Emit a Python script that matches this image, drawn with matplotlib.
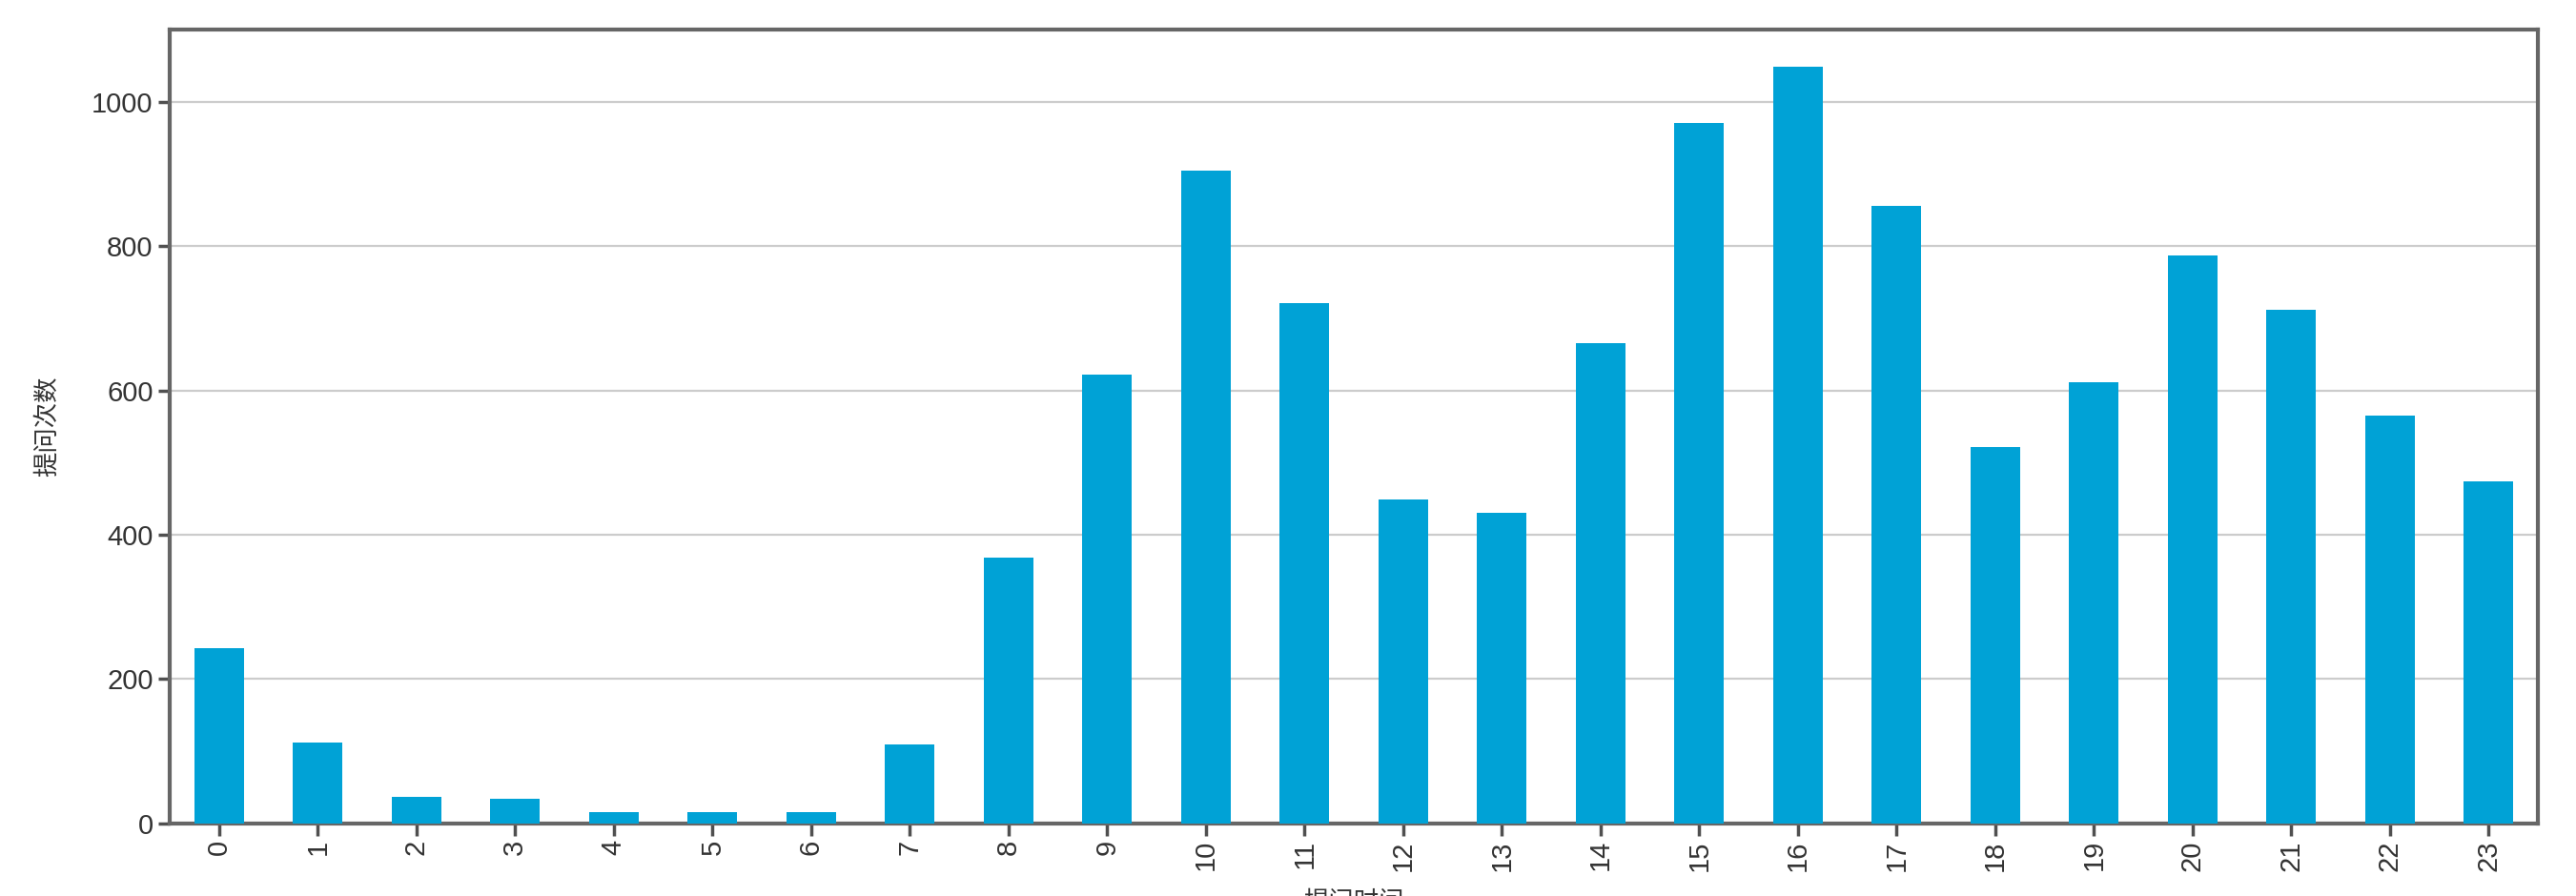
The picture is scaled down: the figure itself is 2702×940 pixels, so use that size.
import numpy as np
import matplotlib
matplotlib.use('Agg')
import matplotlib.pyplot as plt

plt.rcParams['font.family'] = ['Liberation Sans', 'Noto Sans CJK SC', 'DejaVu Sans']

# 每小时提问次数
hours = list(range(24))
counts = [243, 112, 37, 34, 16, 16, 16, 110, 368, 622, 904, 721,
          449, 430, 666, 970, 1048, 856, 522, 611, 787, 712, 565, 474]

fig = plt.figure(figsize=(27.02, 9.4), dpi=100)
ax = fig.add_axes([0.0659, 0.081, 0.9193, 0.886])

x = np.arange(len(hours))
ax.bar(x, counts, width=0.5, color='#00A2D6', zorder=3)

ax.set_xlim(-0.5, len(hours) - 0.5)
ax.set_ylim(0, 1100)
ax.set_yticks([0, 200, 400, 600, 800, 1000])
ax.set_xticks(x)
ax.set_xticklabels([str(h) for h in hours], rotation=90)

ax.yaxis.grid(True, color='#cccccc', linewidth=1.6, zorder=0)
ax.xaxis.grid(False)

for s in ax.spines.values():
    s.set_color('#666666')
    s.set_linewidth(3)

ax.tick_params(axis='both', labelsize=21, labelcolor='#333333',
               length=9, width=2.5, color='#505050')

ax.set_ylabel('提问次数', fontsize=19, color='#333333', labelpad=24,
              family=['Noto Sans CJK SC', 'DejaVu Sans'])
# x 轴标签在原图底部被裁掉了一半
ax.set_xlabel('提问时间', fontsize=19, color='#333333', labelpad=14,
              family=['Noto Sans CJK SC', 'DejaVu Sans'])

fig.savefig('out.png', dpi=100, facecolor='white')
